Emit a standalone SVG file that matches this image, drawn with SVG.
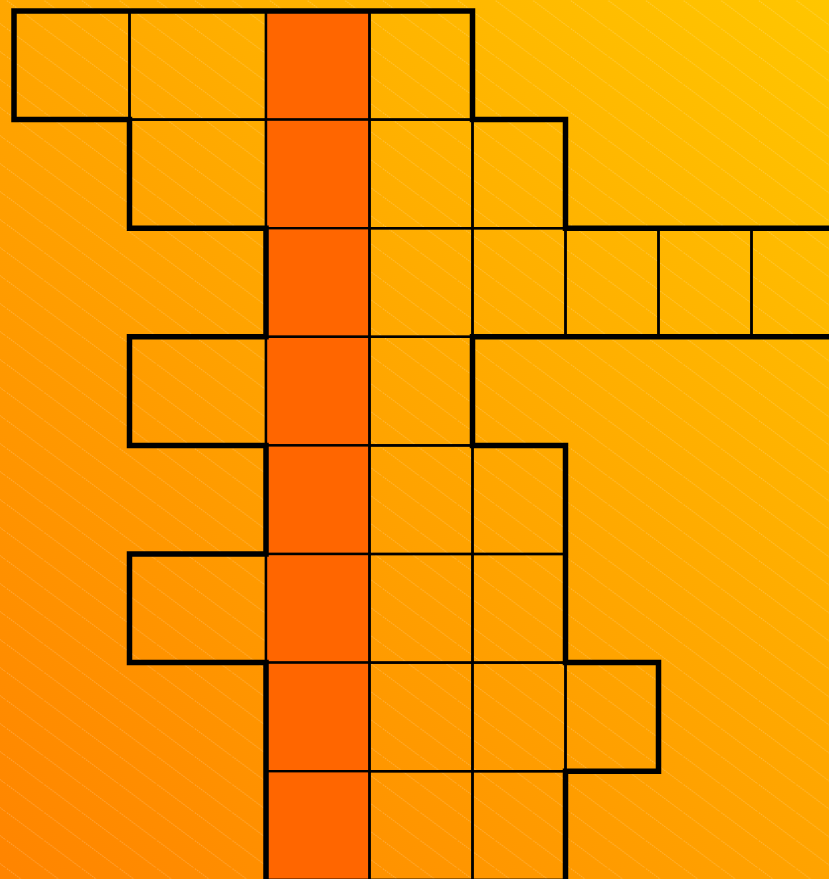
<svg xmlns="http://www.w3.org/2000/svg" width="829" height="879" viewBox="0 0 829 879">
<defs>
<linearGradient id="bg" x1="0" y1="879" x2="829" y2="0" gradientUnits="userSpaceOnUse">
<stop offset="0" stop-color="#FF8400"/>
<stop offset="1" stop-color="#FFC600"/>
</linearGradient>
<pattern id="stripes" x="6" y="0" width="37.6" height="28" patternUnits="userSpaceOnUse">
<line x1="-1" y1="-0.745" x2="38.6" y2="28.745" stroke="#ffffff" stroke-opacity="0.22" stroke-width="1" stroke-dasharray="1.5 1"/>
</pattern>
<style>
.cell{fill:none;stroke:#000;stroke-width:2.4}
.hl{fill:#FF6600;stroke:#000;stroke-width:2.4}
.outline{fill:none;stroke:#000;stroke-width:5.5;stroke-linejoin:miter;stroke-linecap:square}
</style>
</defs>
<rect x="0" y="0" width="829" height="879" fill="url(#bg)"/>
<rect x="0" y="0" width="829" height="879" fill="url(#stripes)"/>
<g id="row1">
<rect class="cell" x="14" y="11" width="115.5" height="108.6"/>
<rect class="cell" x="129.5" y="11" width="136.5" height="108.6"/>
<rect class="hl" x="266" y="11" width="103.5" height="108.6"/>
<rect class="cell" x="369.5" y="11" width="103" height="108.6"/>
</g>
<g id="row2">
<rect class="cell" x="129.5" y="119.6" width="136.5" height="108.6"/>
<rect class="hl" x="266" y="119.6" width="103.5" height="108.6"/>
<rect class="cell" x="369.5" y="119.6" width="103" height="108.6"/>
<rect class="cell" x="472.5" y="119.6" width="93" height="108.6"/>
</g>
<g id="row3">
<rect class="hl" x="266" y="228.2" width="103.5" height="108.6"/>
<rect class="cell" x="369.5" y="228.2" width="103" height="108.6"/>
<rect class="cell" x="472.5" y="228.2" width="93" height="108.6"/>
<rect class="cell" x="565.5" y="228.2" width="93" height="108.6"/>
<rect class="cell" x="658.5" y="228.2" width="93" height="108.6"/>
<rect class="cell" x="751.5" y="228.2" width="93" height="108.6"/>
</g>
<g id="row4">
<rect class="cell" x="129.5" y="336.8" width="136.5" height="108.6"/>
<rect class="hl" x="266" y="336.8" width="103.5" height="108.6"/>
<rect class="cell" x="369.5" y="336.8" width="103" height="108.6"/>
</g>
<g id="row5">
<rect class="hl" x="266" y="445.4" width="103.5" height="108.6"/>
<rect class="cell" x="369.5" y="445.4" width="103" height="108.6"/>
<rect class="cell" x="472.5" y="445.4" width="93" height="108.6"/>
</g>
<g id="row6">
<rect class="cell" x="129.5" y="554" width="136.5" height="108.6"/>
<rect class="hl" x="266" y="554" width="103.5" height="108.6"/>
<rect class="cell" x="369.5" y="554" width="103" height="108.6"/>
<rect class="cell" x="472.5" y="554" width="93" height="108.6"/>
</g>
<g id="row7">
<rect class="hl" x="266" y="662.6" width="103.5" height="108.6"/>
<rect class="cell" x="369.5" y="662.6" width="103" height="108.6"/>
<rect class="cell" x="472.5" y="662.6" width="93" height="108.6"/>
<rect class="cell" x="565.5" y="662.6" width="93" height="108.6"/>
</g>
<g id="row8">
<rect class="hl" x="266" y="771.2" width="103.5" height="108.6"/>
<rect class="cell" x="369.5" y="771.2" width="103" height="108.6"/>
<rect class="cell" x="472.5" y="771.2" width="93" height="108.6"/>
</g>
<g id="connectors">
<path class="outline" d="M266,890 V662.6 H129.5 V554 H266 V445.4 H129.5 V336.8 H266 V228.2 H129.5 V119.6 H14 V11 H472.5 V119.6 H565.5 V228.2 H840 M840,336.8 H472.5 V445.4 H565.5 V662.6 H658.5 V771.2 H565.5 V890"/>
</g>
</svg>
